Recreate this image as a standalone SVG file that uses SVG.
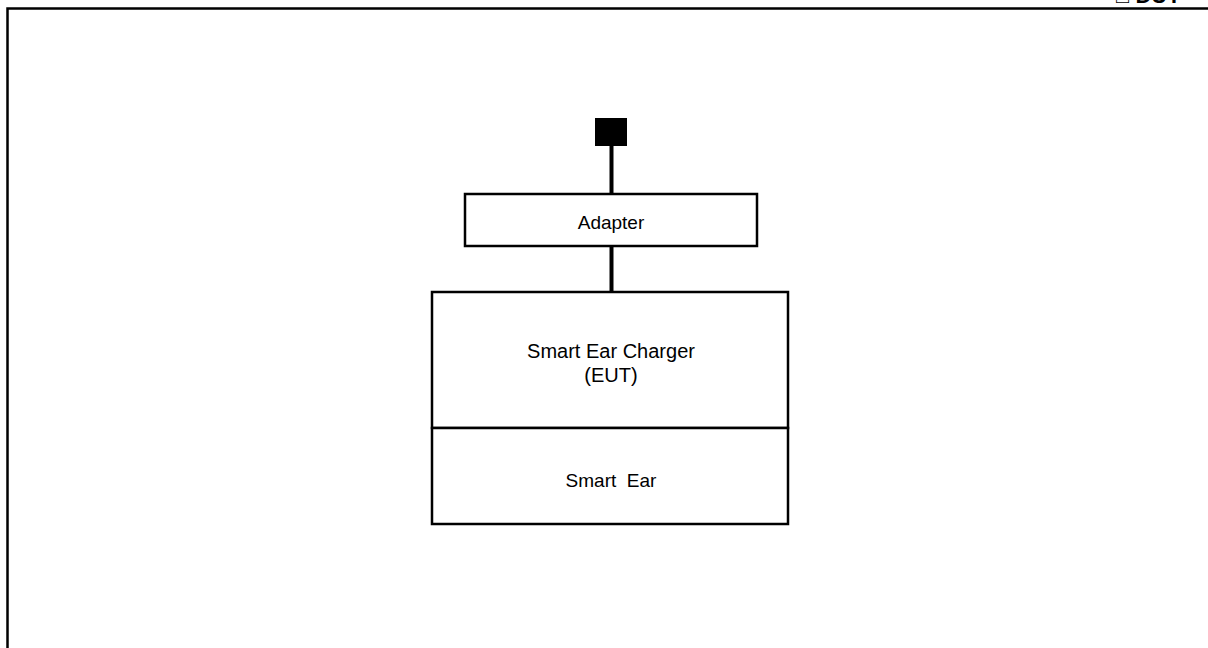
<svg xmlns="http://www.w3.org/2000/svg" width="1208" height="648" viewBox="0 0 1208 648">
<style>
.box{fill:#fff;stroke:#000;stroke-width:2.5}
.wire{stroke:#000;stroke-width:4;fill:none}
.t{font-family:"Liberation Sans",Arial,sans-serif;fill:#000;text-anchor:middle}
</style>
<rect x="0" y="0" width="1208" height="648" fill="#fff"/>
<path d="M7.5 660 V8.5 H1220" fill="none" stroke="#000" stroke-width="2.5"/>
<text x="1116" y="3" font-family="'Liberation Sans',Arial,sans-serif" font-size="22" font-weight="bold">□ DUT</text>
<g id="connectors">
<line class="wire" x1="611.5" y1="146" x2="611.5" y2="194"/>
<line class="wire" x1="611.5" y1="246" x2="611.5" y2="292"/>
</g>
<g id="plug">
<rect x="595" y="118" width="32" height="28" fill="#000"/>
</g>
<g id="adapter">
<rect class="box" x="465" y="194" width="292" height="52"/>
<text class="t" x="611" y="229" font-size="19">Adapter</text>
</g>
<g id="charger">
<rect class="box" x="432" y="292" width="356" height="136"/>
<text class="t" x="611" y="358" font-size="20">Smart Ear Charger</text>
<text class="t" x="611" y="382" font-size="20">(EUT)</text>
</g>
<g id="smart-ear">
<rect class="box" x="432" y="428" width="356" height="96"/>
<text class="t" x="611" y="487" font-size="19" xml:space="preserve">Smart  Ear</text>
</g>
</svg>
